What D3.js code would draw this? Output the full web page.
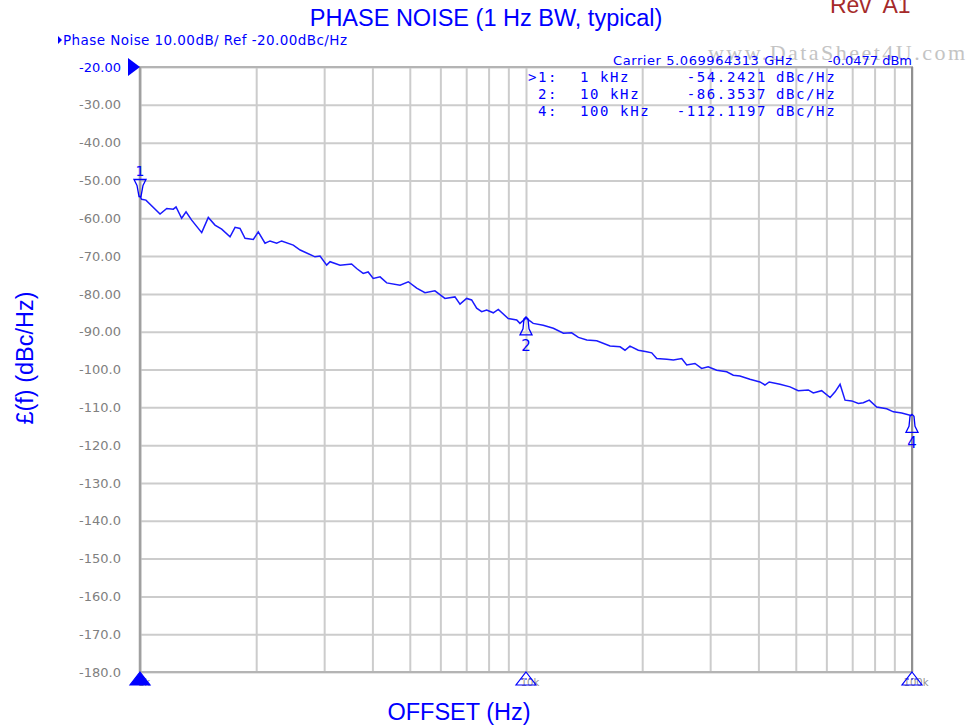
<!DOCTYPE html>
<html>
<head>
<meta charset="utf-8">
<script src="https://cdn.jsdelivr.net/npm/d3@7"></script>
<style>
  html, body { margin: 0; padding: 0; background: #fff; }
  svg { display: block; }
</style>
</head>
<body>
<div id="chart"></div>
<script>
const offsets = [
  1000, 1010, 1036, 1127, 1173, 1220, 1240, 1282, 1316, 1361, 1445, 1503, 1564, 1628,
  1711, 1763, 1816, 1871, 1966, 2025, 2108, 2172, 2260, 2328, 2495, 2600, 2840, 2927,
  3045, 3107, 3298, 3533, 3641, 3786, 3900, 4020, 4188, 4357, 4718, 4955, 5210, 5474,
  5808, 6166, 6546, 6745, 7017, 7230, 7450, 7676, 7909, 8227, 8477, 8995, 9461, 9645,
  10000, 10440, 11080, 11770, 12500, 13130, 13670, 14370, 15250, 16510, 17530, 18050,
  18590, 19540, 20540, 21170, 21810, 23160, 24090, 25320, 26080, 27400, 28510, 29650,
  31190, 33110, 34440, 35830, 38020, 40370, 41590, 42660, 45500, 48310, 50730, 53860,
  55490, 58330, 61350, 63200, 65110, 67070, 69820, 72610, 74800, 77500, 81020, 86000,
  89500, 94050, 98800, 100000
];
const phaseNoise = [
  -54.2, -55.0, -55.2, -58.9, -57.4, -57.6, -57.0, -60.0, -58.3, -60.5, -63.8, -59.8, -61.8, -62.9,
  -64.9, -62.4, -62.7, -65.3, -65.6, -63.6, -66.6, -66.0, -66.6, -66.0, -67.1, -68.4, -70.2, -70.0,
  -72.4, -71.5, -72.4, -72.1, -73.3, -74.6, -74.2, -75.9, -75.5, -77.1, -77.7, -76.8, -78.5, -79.7,
  -79.2, -81.2, -80.8, -82.7, -81.2, -81.6, -83.8, -84.7, -84.3, -85.0, -84.1, -86.5, -86.9, -87.8,
  -86.4, -87.8, -88.3, -89.1, -90.4, -90.3, -91.5, -92.2, -92.4, -93.8, -94.0, -94.9,
  -93.8, -94.9, -95.3, -95.6, -97.1, -97.3, -97.5, -97.1, -98.8, -98.4, -99.7, -99.3,
  -100.2, -100.6, -101.5, -101.7, -102.6, -103.3, -104.1, -103.3, -103.9, -104.6, -105.6, -105.4,
  -106.2, -105.6, -107.4, -105.9, -103.9, -108.1, -108.3, -109.0, -108.8, -108.1, -109.9, -110.4,
  -111.2, -111.5, -112.1, -112.1
];

// Markers
const markerIds = ['1', '2', '4'];
const markerFreqs = [1000, 10000, 100000];
const markerValues = [-54.2421, -86.3537, -112.1197];
const markerFreqLabels = ['1 kHz', '10 kHz', '100 kHz'];

// Axis ticks
const yTicks = d3.range(-20, -181, -10);
const xTickLabels = ['1k', '10k', '100k'];
const xTickValues = [1000, 10000, 100000];

const W = 978, H = 726;
const plot = { left: 140, right: 912, top: 67, bottom: 672 };
const BLUE = '#0000ff';
const GRID = '#cccccc';
const FRAME = '#a0a0a0';
const SANS = 'DejaVu Sans, Verdana, sans-serif';
const ARIAL = 'Liberation Sans, Arial, sans-serif';

const svg = d3.select('#chart').append('svg')
  .attr('width', W)
  .attr('height', H);

const x = d3.scaleLog()
  .domain([1000, 100000])
  .range([plot.left, plot.right]);

const y = d3.scaleLinear()
  .domain([-180, -20])
  .range([plot.bottom, plot.top]);

// Vertical grid (log decades)
svg.append('g')
  .attr('transform', `translate(0, ${plot.bottom})`)
  .call(d3.axisBottom(x).tickValues(x.ticks()).tickSize(-(plot.bottom - plot.top)).tickFormat(''))
  .call(g => g.select('.domain').remove())
  .call(g => g.selectAll('line').attr('stroke', GRID).attr('stroke-width', 2));

// Horizontal grid + y labels
svg.append('g')
  .attr('transform', `translate(${plot.left}, 0)`)
  .call(d3.axisLeft(y).tickValues(yTicks).tickSize(-(plot.right - plot.left)).tickPadding(19)
    .tickFormat(d => d > -100 ? d.toFixed(2) : d.toFixed(1)))
  .call(g => g.select('.domain').remove())
  .call(g => g.selectAll('line').attr('stroke', GRID).attr('stroke-width', 2))
  .call(g => g.selectAll('text')
    .attr('fill', (d, i) => i === 0 ? BLUE : '#808080')
    .attr('font-family', SANS)
    .attr('font-size', 13));

// Frame
svg.append('rect')
  .attr('x', plot.left).attr('y', plot.top)
  .attr('width', plot.right - plot.left).attr('height', plot.bottom - plot.top)
  .attr('fill', 'none').attr('stroke', '#b4b4b4').attr('stroke-width', 2);
svg.append('line')
  .attr('x1', plot.left).attr('x2', plot.left).attr('y1', plot.top).attr('y2', plot.bottom)
  .attr('stroke', FRAME).attr('stroke-width', 2.5);
svg.append('line')
  .attr('x1', plot.right).attr('x2', plot.right).attr('y1', plot.top).attr('y2', plot.bottom)
  .attr('stroke', '#909090').attr('stroke-width', 2);

// Reference-level arrow
svg.append('path')
  .attr('d', `M${plot.left - 12},${y(-20) - 9} L${plot.left},${y(-20)} L${plot.left - 12},${y(-20) + 9} Z`)
  .attr('fill', BLUE);

// Bottom x tick labels (partly under the stimulus triangles)
svg.append('g').selectAll('text')
  .data(xTickValues)
  .join('text')
  .attr('x', d => x(d) + 4)
  .attr('y', plot.bottom + 14)
  .attr('text-anchor', 'middle')
  .attr('font-family', SANS)
  .attr('font-size', 10)
  .attr('fill', '#909090')
  .text((d, i) => xTickLabels[i]);

// Trace
const line = d3.line()
  .x(d => x(d[0]))
  .y(d => y(d[1]));

svg.append('path')
  .datum(offsets.map((f, i) => [f, phaseNoise[i]]))
  .attr('d', line)
  .attr('fill', 'none')
  .attr('stroke', '#1a1aff')
  .attr('stroke-width', 1.5)
  .attr('stroke-linejoin', 'miter');

// Trace markers
markerIds.forEach((id, i) => {
  const mx = x(markerFreqs[i]);
  const my = y(markerValues[i]);
  const g = svg.append('g').attr('fill', 'none').attr('stroke', BLUE).attr('stroke-width', 1.3);
  if (i === 0) {
    // points down onto the trace, label above
    g.append('path')
      .attr('d', `M${mx - 6},${my - 17} L${mx + 6},${my - 17} L${mx + 3},${my - 11} L${mx + 1},${my} L${mx - 1},${my} L${mx - 3},${my - 11} Z`);
    svg.append('text')
      .attr('x', mx).attr('y', my - 20)
      .attr('text-anchor', 'middle')
      .attr('font-family', SANS).attr('font-size', 14)
      .attr('fill', BLUE).text(id);
  } else {
    g.append('path')
      .attr('d', `M${mx - 6},${my + 17} L${mx + 6},${my + 17} L${mx + 3},${my + 11} L${mx + 2},${my + 1} L${mx},${my - 1} L${mx - 2},${my + 1} L${mx - 3},${my + 11} Z`);
    svg.append('text')
      .attr('x', mx).attr('y', my + 33)
      .attr('text-anchor', 'middle')
      .attr('font-family', SANS).attr('font-size', 15)
      .attr('fill', BLUE).text(id);
  }

  // stimulus triangles on the bottom axis
  svg.append('path')
    .attr('d', `M${mx},${plot.bottom} L${mx + 10},${plot.bottom + 13} L${mx - 10},${plot.bottom + 13} Z`)
    .attr('fill', i === 0 ? BLUE : 'none')
    .attr('stroke', BLUE)
    .attr('stroke-width', 1.2);
  if (i > 0) {
    svg.append('line')
      .attr('x1', mx - 5).attr('x2', mx + 5)
      .attr('y1', plot.bottom + 7).attr('y2', plot.bottom + 7)
      .attr('stroke', BLUE).attr('stroke-width', 1).attr('stroke-dasharray', '2,2');
  }
});

// Marker readout table
const MONO = 'DejaVu Sans Mono, Liberation Mono, monospace';
const table = svg.append('g')
  .attr('font-family', MONO)
  .attr('font-size', 14)
  .attr('fill', BLUE)
  .attr('letter-spacing', 1.6);
markerIds.forEach((id, i) => {
  const ty = 82 + i * 17;
  table.append('text').attr('x', 558).attr('y', ty).attr('text-anchor', 'end')
    .text((i === 0 ? '>' : '') + id + ':');
  table.append('text').attr('x', 580).attr('y', ty).text(markerFreqLabels[i]);
  table.append('text').attr('x', 767).attr('y', ty).attr('text-anchor', 'end')
    .text(markerValues[i].toFixed(4));
  table.append('text').attr('x', 776).attr('y', ty).text('dBc/Hz');
});

// Watermark
svg.append('text')
  .attr('x', 708).attr('y', 60)
  .attr('font-family', 'Liberation Serif, DejaVu Serif, serif')
  .attr('font-size', 22)
  .attr('textLength', 257)
  .attr('fill', '#c4c4c4')
  .text('www.DataSheet4U.com');

// Carrier info
svg.append('text')
  .attr('x', 613).attr('y', 65)
  .attr('font-family', SANS).attr('font-size', 13)
  .attr('textLength', 179)
  .attr('fill', BLUE)
  .text('Carrier 5.069964313 GHz');
svg.append('text')
  .attr('x', 912).attr('y', 65)
  .attr('text-anchor', 'end')
  .attr('font-family', SANS).attr('font-size', 13)
  .attr('fill', BLUE)
  .text('-0.0477 dBm');

// Trace header
svg.append('path')
  .attr('d', 'M58,36 L62,40 L58,44 Z')
  .attr('fill', BLUE);
svg.append('text')
  .attr('x', 63).attr('y', 45)
  .attr('font-family', SANS).attr('font-size', 13.5)
  .attr('textLength', 284)
  .attr('fill', BLUE)
  .text('Phase Noise 10.00dB/ Ref -20.00dBc/Hz');

// Title and labels
svg.append('text')
  .attr('x', 486).attr('y', 26)
  .attr('text-anchor', 'middle')
  .attr('font-family', ARIAL).attr('font-size', 23.5)
  .attr('fill', BLUE)
  .text('PHASE NOISE (1 Hz BW, typical)');

svg.append('text')
  .attr('x', 830).attr('y', 13)
  .attr('font-family', ARIAL).attr('font-size', 23)
  .attr('fill', '#a52a2a')
  .attr('xml:space', 'preserve')
  .text('Rev  A1');

svg.append('text')
  .attr('x', 459).attr('y', 720)
  .attr('text-anchor', 'middle')
  .attr('font-family', ARIAL).attr('font-size', 23.5)
  .attr('fill', BLUE)
  .text('OFFSET (Hz)');

svg.append('text')
  .attr('transform', 'translate(33, 358) rotate(-90)')
  .attr('text-anchor', 'middle')
  .attr('font-family', ARIAL).attr('font-size', 23.5)
  .attr('fill', BLUE)
  .text('£(f) (dBc/Hz)');
</script>
</body>
</html>
